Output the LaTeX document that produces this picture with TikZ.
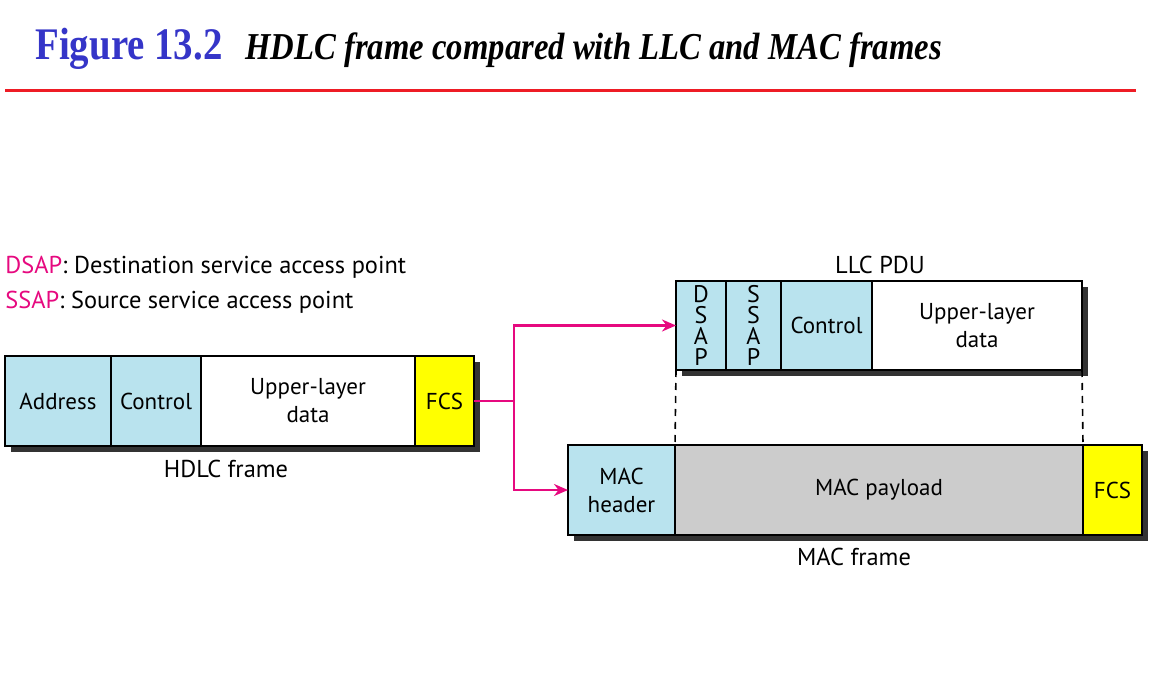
\documentclass[tikz,border=0pt]{standalone}
\usepackage{fontspec}
\setmainfont{PT Sans}
\newfontfamily\titlefont[FakeStretch=0.86]{Liberation Serif}
\usetikzlibrary{positioning, arrows.meta, backgrounds}

\definecolor{fieldblue}{HTML}{B9E3EE}
\definecolor{fcsyellow}{HTML}{FFFF00}
\definecolor{paygrey}{HTML}{CCCCCC}
\definecolor{linkpink}{HTML}{E6097F}
\definecolor{titleblue}{HTML}{3535C8}
\definecolor{rulered}{HTML}{EE1C25}
\definecolor{shadowgrey}{HTML}{333333}

\begin{document}
\begin{tikzpicture}[x=0.5pt, y=-0.5pt, >=Stealth,
		field/.style={draw, rectangle, line width=1pt, minimum height=45pt, inner sep=0pt, outer sep=0pt, align=center, font=\fontsize{11.5}{14}\selectfont},
		link/.style={->, draw=linkpink, line width=1.4pt, -{Stealth[length=7pt, width=6pt]}},
		caption/.style={font=\fontsize{12.2}{14}\selectfont}]
		\useasboundingbox (0, 0) rectangle (1159, 683);

		% title
		\node[anchor=base west, inner sep=0pt, text=titleblue, font=\titlefont\bfseries\fontsize{22.6}{26}\selectfont] (fig) at (35, 60) {Figure 13.2};
		\node[anchor=base west, inner sep=0pt, font=\titlefont\bfseries\itshape\fontsize{19}{22}\selectfont] (figtitle) at (245, 60) {HDLC frame compared with LLC and MAC frames};
		\draw[rulered, line width=1.5pt] (5, 91) -- (1136, 91);

		% legend
		\node[anchor=base west, inner sep=0pt, caption] (dsapkey) at (5, 274) {\textcolor{linkpink}{DSAP}: Destination service access point};
		\node[anchor=base west, inner sep=0pt, caption] (ssapkey) at (5, 309) {\textcolor{linkpink}{SSAP}: Source service access point};

		% HDLC frame
		\node[field, anchor=west, minimum width=53pt, fill=fieldblue] (addr) at (5, 401) {Address};
		\node[field, minimum width=45pt, fill=fieldblue, right=0pt of addr] (ctrl) {Control};
		\node[field, minimum width=107pt, fill=white, right=0pt of ctrl] (data) {Upper-layer\\data};
		\node[field, minimum width=29.5pt, fill=fcsyellow, right=0pt of data] (fcs) {FCS};
		\node[caption] (hdlc) at (226, 469) {HDLC frame};

		% LLC PDU
		\node[field, anchor=west, minimum width=25pt, minimum height=44.5pt, fill=fieldblue, font=\fontsize{12}{10.5}\selectfont] (dsap) at (676, 325.5) {D\\S\\A\\P};
		\node[field, minimum width=27.5pt, minimum height=44.5pt, fill=fieldblue, right=0pt of dsap, font=\fontsize{12}{10.5}\selectfont] (ssap) {S\\S\\A\\P};
		\node[field, minimum width=45.5pt, minimum height=44.5pt, fill=fieldblue, right=0pt of ssap] (lctrl) {Control};
		\node[field, minimum width=105pt, minimum height=44.5pt, fill=white, right=0pt of lctrl] (ldata) {Upper-layer\\data};
		\node[caption] (llc) at (880, 265) {LLC PDU};

		% MAC frame
		\node[field, anchor=west, minimum width=53.5pt, fill=fieldblue] (mhdr) at (568, 490) {MAC\\header};
		\node[field, minimum width=204pt, fill=paygrey, right=0pt of mhdr] (mpay) {MAC payload};
		\node[field, minimum width=29.5pt, fill=fcsyellow, right=0pt of mpay] (mfcs) {FCS};
		\node[caption] (mac) at (854, 557) {MAC frame};

		% shadows
		\begin{scope}[on background layer]
			\fill[shadowgrey] ([shift={(6, 6)}]addr.north west) rectangle ([shift={(6, 6)}]fcs.south east);
			\fill[shadowgrey] ([shift={(6, 6)}]dsap.north west) rectangle ([shift={(6, 6)}]ldata.south east);
			\fill[shadowgrey] ([shift={(6, 6)}]mhdr.north west) rectangle ([shift={(6, 6)}]mfcs.south east);
		\end{scope}

		% dashed guides
		\draw[dash pattern=on 3.5pt off 3pt, line width=0.8pt] (dsap.south west) -- (mpay.north west);
		\draw[dash pattern=on 3.5pt off 3pt, line width=0.8pt] (ldata.south east) -- (mpay.north east);

		% links
		\draw[link] (fcs.east) -- ++(40, 0) coordinate (split) |- (dsap.west);
		\draw[link] (split) |- (mhdr.west);
	\end{tikzpicture}
\end{document}
